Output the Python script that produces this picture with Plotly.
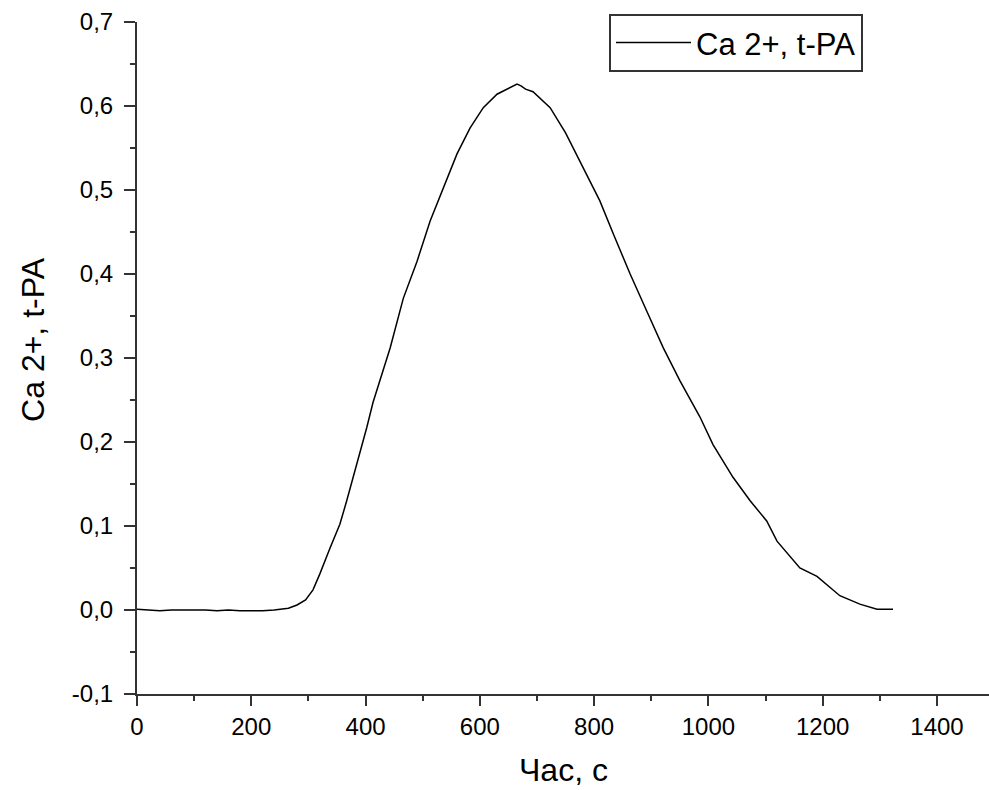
import plotly.graph_objects as go

time_s = [0, 20, 40, 60, 80, 100, 120, 140, 160, 180, 200, 220, 240, 255, 265, 280,
          295, 308, 320, 338, 355, 367, 378, 390, 402, 413, 425, 443, 466, 490, 513,
          536, 560, 583, 606, 630, 645, 655, 665, 672, 680, 693, 708, 723, 750, 775,
          810, 834, 863, 892, 921, 950, 985, 1008, 1043, 1073, 1102, 1120, 1160, 1190,
          1230, 1265, 1295, 1323]
signal = [0.001, 0.000, -0.001, 0.000, 0.000, 0.000, 0.000, -0.001, 0.000, -0.001,
          -0.001, -0.001, 0.000, 0.001, 0.002, 0.006, 0.012, 0.024, 0.043, 0.074,
          0.102, 0.130, 0.157, 0.189, 0.217, 0.247, 0.272, 0.312, 0.371, 0.415,
          0.463, 0.503, 0.543, 0.574, 0.598, 0.614, 0.619, 0.623, 0.626, 0.624,
          0.620, 0.617, 0.608, 0.598, 0.568, 0.535, 0.487, 0.447, 0.400, 0.356,
          0.312, 0.273, 0.230, 0.197, 0.158, 0.130, 0.106, 0.082, 0.050, 0.040,
          0.017, 0.007, 0.001, 0.001]

series_name = "Ca 2+, t-PA"
x_title = "Час, с"
y_title = "Ca 2+, t-PA"
x_ticks = [0, 200, 400, 600, 800, 1000, 1200, 1400]
y_ticks = [-0.1, 0.0, 0.1, 0.2, 0.3, 0.4, 0.5, 0.6, 0.7]
y_tick_text = ["-0,1", "0,0", "0,1", "0,2", "0,3", "0,4", "0,5", "0,6", "0,7"]

FONT = "Liberation Sans, Arial, sans-serif"
AXIS_COLOR = "#333333"

fig = go.Figure()
fig.add_trace(go.Scatter(x=time_s, y=signal, mode="lines", name=series_name,
                         line=dict(color="black", width=1.5)))

fig.update_layout(
    width=989, height=790,
    margin=dict(l=137, r=0, t=22, b=96, autoexpand=False),
    paper_bgcolor="white", plot_bgcolor="white",
    font=dict(family=FONT, color="black", size=22),
    showlegend=True,
    legend=dict(x=0.554, y=1.012, xanchor="left", yanchor="top",
                bgcolor="white", bordercolor=AXIS_COLOR, borderwidth=2,
                font=dict(size=31, family=FONT), itemwidth=75),
    xaxis=dict(range=[0, 1491], tickvals=x_ticks, ticks="outside", ticklen=10,
               tickwidth=2, tickcolor=AXIS_COLOR, showline=True, linecolor=AXIS_COLOR,
               linewidth=2, showgrid=False, zeroline=False, automargin=False,
               tickfont=dict(size=24, family=FONT),
               minor=dict(dtick=100, ticks="outside", ticklen=5, tickwidth=2,
                          tickcolor=AXIS_COLOR, showgrid=False)),
    yaxis=dict(range=[-0.1, 0.7], tickvals=y_ticks, ticktext=y_tick_text,
               ticks="outside", ticklen=11, tickwidth=2, tickcolor=AXIS_COLOR,
               showline=True, linecolor=AXIS_COLOR, linewidth=2, showgrid=False,
               zeroline=False, automargin=False, tickfont=dict(size=24, family=FONT),
               ticklabelstandoff=6,
               minor=dict(dtick=0.05, ticks="outside", ticklen=5, tickwidth=2,
                          tickcolor=AXIS_COLOR, showgrid=False)),
    annotations=[
        dict(text=x_title, xref="paper", yref="paper", x=0.501, y=-0.113,
             xanchor="center", yanchor="middle", showarrow=False,
             font=dict(size=32, family=FONT)),
        dict(text=y_title, xref="paper", yref="paper", x=-0.122, y=0.527,
             xanchor="center", yanchor="middle", textangle=-90, showarrow=False,
             font=dict(size=32, family=FONT)),
    ],
)

fig.write_html("out.html",
               config={"displayModeBar": False},
               post_script="document.body.style.margin='0px';"
                           "document.body.style.overflow='hidden';")
